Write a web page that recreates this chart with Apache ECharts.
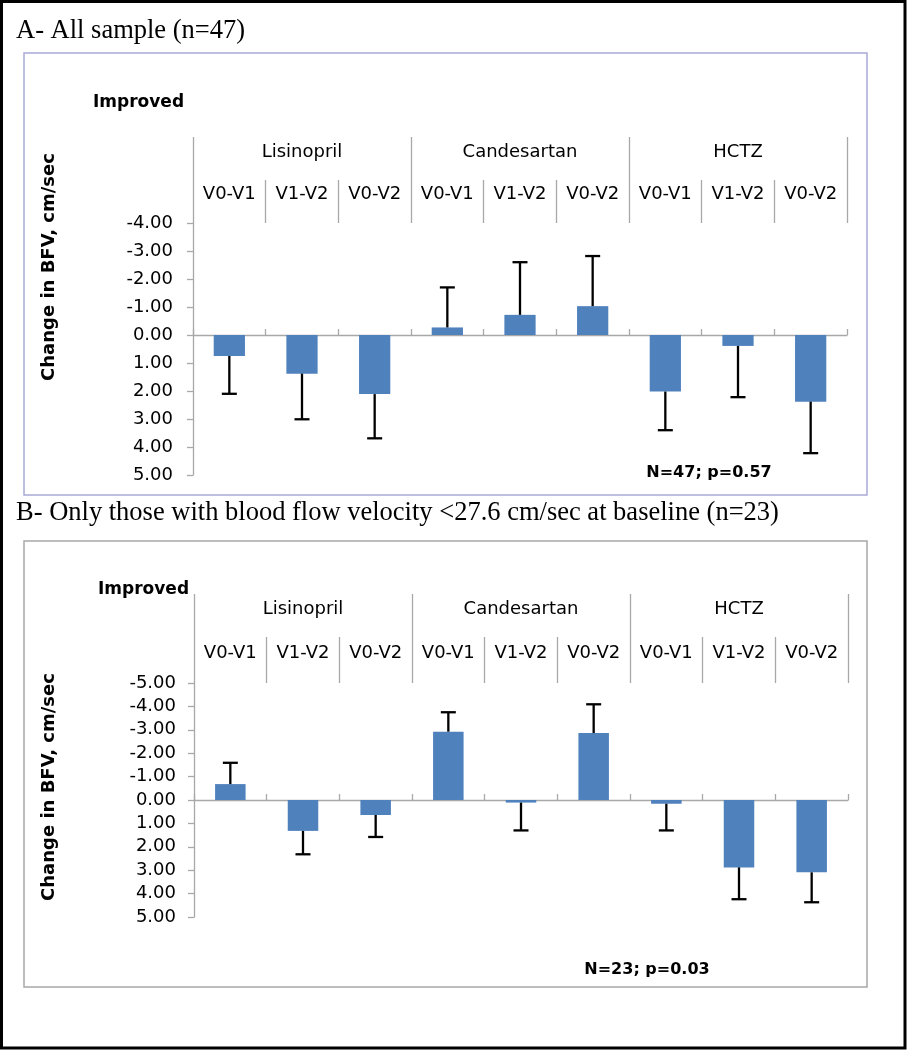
<!DOCTYPE html>
<html>
<head>
<meta charset="utf-8">
<script src="https://cdn.jsdelivr.net/npm/echarts@6/dist/echarts.min.js"></script>
<style>
html,body{margin:0;padding:0;background:#fff;}
#chart{width:907px;height:1050px;}
</style>
</head>
<body>
<div id="chart"></div>
<script>
// ---- data ----
const groups = ['Lisinopril', 'Candesartan', 'HCTZ'];
const periods = ['V0-V1', 'V1-V2', 'V0-V2', 'V0-V1', 'V1-V2', 'V0-V2', 'V0-V1', 'V1-V2', 'V0-V2'];
const yTicksA = [-4, -3, -2, -1, 0, 1, 2, 3, 4, 5];
const yTicksB = [-5, -4, -3, -2, -1, 0, 1, 2, 3, 4, 5];
// Panel A: all sample (n=47) - mean change in BFV (negative = improved) and error bar size
const valuesA = [0.75, 1.38, 2.11, -0.27, -0.72, -1.03, 2.02, 0.39, 2.38];
const errorsA = [1.35, 1.63, 1.58, 1.43, 1.88, 1.79, 1.38, 1.83, 1.84];
// Panel B: baseline BFV < 27.6 cm/sec (n=23)
const valuesB = [-0.68, 1.32, 0.64, -2.92, 0.11, -2.86, 0.16, 2.88, 3.09];
const errorsB = [0.91, 1.00, 0.94, 0.83, 1.19, 1.23, 1.14, 1.36, 1.28];
const titleA = 'A- All sample (n=47)';
const titleB = 'B- Only those with blood flow velocity <27.6 cm/sec at baseline (n=23)';
const statA = 'N=47; p=0.57';
const statB = 'N=23; p=0.03';
const yName = 'Change in BFV, cm/sec';
const improvedLabel = 'Improved';

// ---- chart ----
const chart = echarts.init(document.getElementById('chart'), null, {renderer: 'canvas'});
const AX = '#a8a8a8';
const SANS = 'DejaVu Sans';
const BAR = '#4f81bd';

function errRender(params, api) {
  const i = api.value(0), v = api.value(1), e = api.value(2);
  const end = v + (v < 0 ? -e : e);
  const p1 = api.coord([i, v]);
  const p2 = api.coord([i, end]);
  const hw = 7.5;
  return {
    type: 'group',
    children: [
      {type: 'line', shape: {x1: p1[0], y1: p1[1], x2: p2[0], y2: p2[1]}, style: {stroke: '#000', lineWidth: 2.3}},
      {type: 'line', shape: {x1: p2[0] - hw, y1: p2[1], x2: p2[0] + hw, y2: p2[1]}, style: {stroke: '#000', lineWidth: 2.3}}
    ]
  };
}

function xAxesFor(gi, subOffset, subMargin, grpMargin) {
  return [
    { // zero line axis
      type: 'category', gridIndex: gi, data: periods, position: 'bottom',
      axisLine: {onZero: true, lineStyle: {color: AX, width: 1.3}},
      axisTick: {show: true, inside: true, length: 6, interval: 0, lineStyle: {color: AX, width: 1.3}},
      axisLabel: {show: false}, splitLine: {show: false}
    },
    { // sub-category labels at top
      type: 'category', gridIndex: gi, data: periods, position: 'top', offset: 0,
      axisLine: {show: false, onZero: false},
      axisTick: {show: true, length: subOffset, interval: 0, lineStyle: {color: AX, width: 1.3}},
      axisLabel: {show: true, interval: 0, margin: subMargin, color: '#000', fontFamily: SANS, fontSize: 18},
      splitLine: {show: false}
    },
    { // group labels at top
      type: 'category', gridIndex: gi, data: groups, position: 'top', offset: subOffset,
      axisLine: {show: false, onZero: false},
      axisTick: {show: true, length: 43, interval: 0, lineStyle: {color: AX, width: 1.3}},
      axisLabel: {show: true, interval: 0, margin: grpMargin, color: '#000', fontFamily: SANS, fontSize: 18},
      splitLine: {show: false}
    }
  ];
}

function yAxisFor(gi, min, max, margin) {
  return {
    type: 'value', gridIndex: gi, inverse: true, min: min, max: max, interval: 1,
    axisLine: {show: true, lineStyle: {color: AX, width: 1.3}},
    axisTick: {show: true, length: 6, lineStyle: {color: AX, width: 1.3}},
    axisLabel: {margin: margin, color: '#000', fontFamily: SANS, fontSize: 18,
      formatter: v => (Math.abs(v) < 1e-9 ? 0 : v).toFixed(2)},
    splitLine: {show: false}
  };
}

const option = {
  backgroundColor: '#fff',
  animation: false,
  grid: [
    {left: 193, top: 223, width: 654, height: 252},
    {left: 194, top: 683, width: 654, height: 234}
  ],
  xAxis: [].concat(xAxesFor(0, 43, 20, 19), xAxesFor(1, 46, 21, 19)),
  yAxis: [yAxisFor(0, yTicksA[0], yTicksA[yTicksA.length - 1], 20), yAxisFor(1, yTicksB[0], yTicksB[yTicksB.length - 1], 18)],
  series: [
    {type: 'bar', xAxisIndex: 0, yAxisIndex: 0, data: valuesA, barWidth: '43%',
      itemStyle: {color: BAR}, z: 2},
    {type: 'custom', xAxisIndex: 0, yAxisIndex: 0, renderItem: errRender,
      data: valuesA.map((v, i) => [i, v, errorsA[i]]), z: 3},
    {type: 'bar', xAxisIndex: 3, yAxisIndex: 1, data: valuesB, barWidth: '42%',
      itemStyle: {color: BAR}, z: 2},
    {type: 'custom', xAxisIndex: 3, yAxisIndex: 1, renderItem: errRender,
      data: valuesB.map((v, i) => [i, v, errorsB[i]]), z: 3}
  ],
  graphic: [
    {type: 'rect', shape: {x: 1.5, y: 1.5, width: 903.5, height: 1046.5}, style: {fill: null, stroke: '#000', lineWidth: 3}, z: 100},
    {type: 'rect', shape: {x: 24, y: 53, width: 843, height: 442}, style: {fill: null, stroke: '#a9a9d6', lineWidth: 1.5}, z: 0},
    {type: 'rect', shape: {x: 24, y: 541, width: 843, height: 446}, style: {fill: null, stroke: '#a8a8a8', lineWidth: 1.5}, z: 0},
    {type: 'text', x: 16, y: 31, style: {text: titleA, fontFamily: 'Liberation Serif', fontSize: 26.5, fill: '#000', textVerticalAlign: 'middle'}},
    {type: 'text', x: 16, y: 513, style: {text: titleB, fontFamily: 'Liberation Serif', fontSize: 26.5, fill: '#000', textVerticalAlign: 'middle'}},
    {type: 'text', x: 93, y: 103, style: {text: improvedLabel, fontFamily: SANS, fontWeight: 'bold', fontSize: 17, fill: '#000', textVerticalAlign: 'middle'}},
    {type: 'text', x: 98, y: 590, style: {text: improvedLabel, fontFamily: SANS, fontWeight: 'bold', fontSize: 17, fill: '#000', textVerticalAlign: 'middle'}},
    {type: 'text', x: 709, y: 473, style: {text: statA, fontFamily: SANS, fontWeight: 'bold', fontSize: 16, fill: '#000', textAlign: 'center', textVerticalAlign: 'middle'}},
    {type: 'text', x: 647, y: 970, style: {text: statB, fontFamily: SANS, fontWeight: 'bold', fontSize: 16, fill: '#000', textAlign: 'center', textVerticalAlign: 'middle'}},
    {type: 'text', x: 49, y: 267, rotation: Math.PI / 2, style: {text: yName, fontFamily: SANS, fontWeight: 'bold', fontSize: 18, fill: '#000', textAlign: 'center', textVerticalAlign: 'middle'}},
    {type: 'text', x: 49, y: 787, rotation: Math.PI / 2, style: {text: yName, fontFamily: SANS, fontWeight: 'bold', fontSize: 18, fill: '#000', textAlign: 'center', textVerticalAlign: 'middle'}}
  ]
};
chart.setOption(option);
</script>
</body>
</html>
